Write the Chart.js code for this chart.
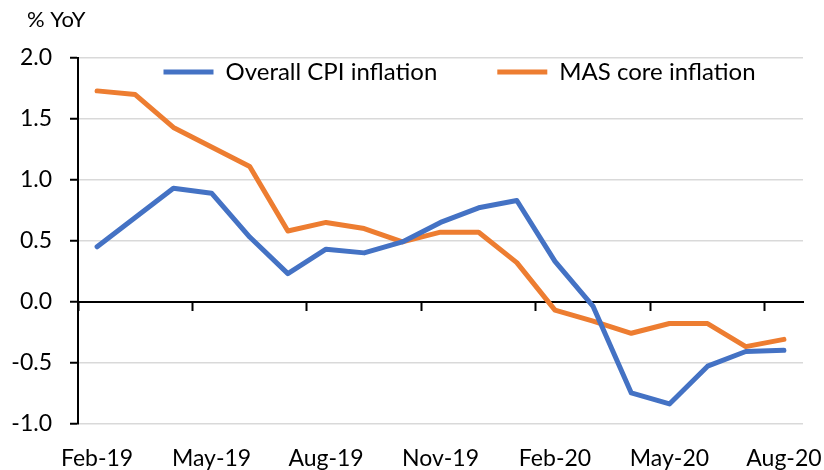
<!DOCTYPE html>
<html><head><meta charset="utf-8">
<script src="https://cdn.jsdelivr.net/npm/chart.js@4/dist/chart.umd.min.js"></script>
<style>html,body{margin:0;padding:0;background:#fff;overflow:hidden}</style>
</head><body>
<canvas id="c" width="824" height="470"></canvas>
<script>
const months = ['Feb-19','Mar-19','Apr-19','May-19','Jun-19','Jul-19','Aug-19','Sep-19','Oct-19','Nov-19','Dec-19','Jan-20','Feb-20','Mar-20','Apr-20','May-20','Jun-20','Jul-20','Aug-20'];
const cpiInflation = [0.45,0.69,0.93,0.89,0.53,0.23,0.43,0.40,0.49,0.65,0.77,0.83,0.33,-0.04,-0.75,-0.84,-0.53,-0.41,-0.40];
const coreInflation = [1.73,1.70,1.43,1.27,1.11,0.58,0.65,0.60,0.49,0.57,0.57,0.32,-0.07,-0.16,-0.26,-0.18,-0.18,-0.37,-0.31];
const seriesNames = ['Overall CPI inflation','MAS core inflation'];
const yAxisTitle = '% YoY';
const labelEvery = 3;

const FS = 23;
const LFS = 24;
Chart.defaults.font.family = 'Lato';
Chart.defaults.font.size = FS;
Chart.defaults.color = '#000';

const LEG_PAD = 60;
const legendInside = {
  id: 'legendInside',
  beforeLayout(chart) {
    const lg = chart.legend;
    if (lg && !lg._patched) {
      const orig = lg.fit;
      lg.fit = function () { orig.call(this); this.height = 0; };
      lg._patched = true;
    }
  },
  afterLayout(chart) {
    const lg = chart.legend;
    lg.left = 103.5; lg.right = 824; lg.top = 72 - LFS / 2 - LEG_PAD; lg.bottom = 130;
    lg.width = lg.right - lg.left; lg.height = lg.bottom - lg.top;
    const tb = chart.titleBlock;
    if (tb) { tb.left = 27; }
  }
};
const noSidePad = (s) => { s.paddingLeft = 0; s.paddingRight = 0; };

new Chart(document.getElementById('c'), {
  type: 'line',
  data: {
    labels: months,
    datasets: [
      { label: seriesNames[0], data: cpiInflation, borderColor: '#4472C4', backgroundColor: '#4472C4', borderWidth: 5, pointRadius: 0, tension: 0, borderCapStyle: 'round', borderJoinStyle: 'round', xAxisID: 'x' },
      { label: seriesNames[1], data: coreInflation, borderColor: '#ED7D31', backgroundColor: '#ED7D31', borderWidth: 5, pointRadius: 0, tension: 0, borderCapStyle: 'round', borderJoinStyle: 'round', xAxisID: 'x' }
    ]
  },
  options: {
    responsive: false,
    animation: false,
    devicePixelRatio: 1,
    layout: { padding: { left: 0, right: 21, top: 0, bottom: -23 } },
    plugins: {
      title: { display: true, text: yAxisTitle, align: 'start', font: { size: 22, weight: 'normal' }, padding: { top: 7, bottom: 24.6 } },
      legend: {
        display: true, position: 'top', align: 'start',
        labels: { usePointStyle: true, pointStyle: 'line', pointStyleWidth: 50, padding: LEG_PAD, font: { size: LFS } }
      },
      tooltip: { enabled: false }
    },
    scales: {
      x: {
        type: 'category', position: 'bottom', offset: true,
        grid: { display: false, drawTicks: false },
        border: { display: false },
        ticks: { autoSkip: false, maxRotation: 0, padding: 21, callback: (v, i) => (i % labelEvery === 0 ? months[i] : '') },
        afterFit: noSidePad
      },
      x0: {
        type: 'category', position: { y: 0 }, offset: true,
        grid: { offset: true, drawOnChartArea: false, drawTicks: true, tickLength: 8, tickWidth: 2,
          tickColor: (ctx) => (ctx.index !== undefined && ctx.index % labelEvery === 0 ? '#000' : 'rgba(0,0,0,0)') },
        border: { display: true, color: '#000', width: 2 },
        ticks: { display: false },
        afterFit: (s) => { s.height = 0; noSidePad(s); }
      },
      y: {
        min: -1, max: 2,
        ticks: { stepSize: 0.5, padding: 18, callback: (v) => Number(v).toFixed(1) },
        grid: { color: (ctx) => (ctx.tick && ctx.tick.value === 0 ? '#000' : '#D9D9D9'), lineWidth: 1.5, tickLength: 8, tickColor: '#000', tickWidth: 2 },
        border: { display: true, color: '#000', width: 2 },
        afterFit: (s) => { s.width = 78; }
      }
    }
  },
  plugins: [legendInside]
});
</script>
</body></html>
